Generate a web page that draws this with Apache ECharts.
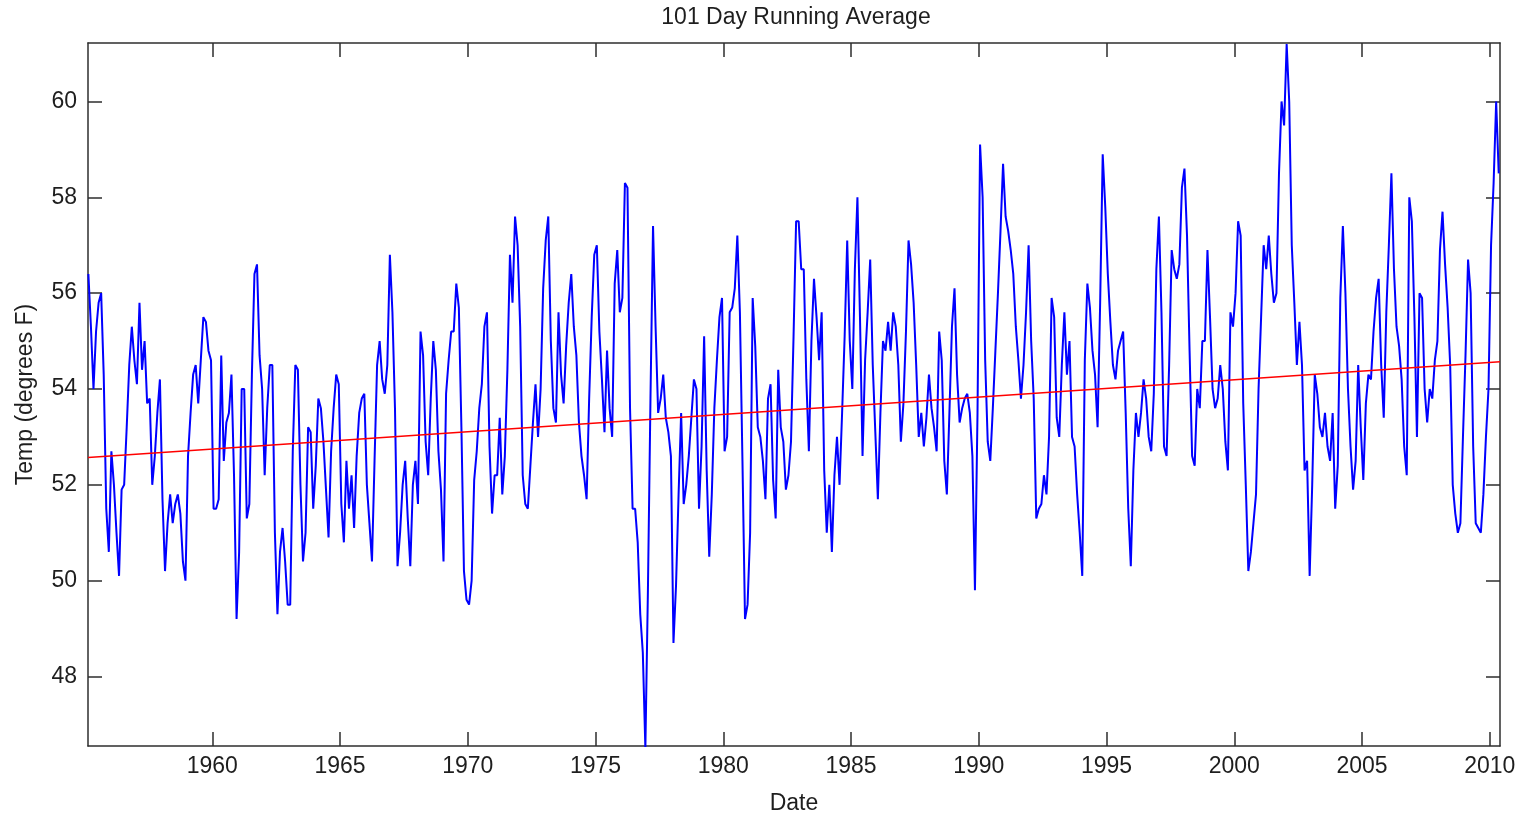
<!DOCTYPE html>
<html>
<head>
<meta charset="utf-8">
<title>101 Day Running Average</title>
<script src="https://cdn.jsdelivr.net/npm/echarts@6/dist/echarts.min.js"></script>
<style>
  html, body { margin: 0; padding: 0; background: #ffffff; overflow: hidden; }
  #chart { width: 1527px; height: 820px; }
</style>
</head>
<body>
<div id="chart"></div>
<script>
// 101-day running average of daily temperature (deg F).
// Samples are spaced 0.1 year apart, the first one at START_YEAR.
const START_YEAR = 1955.15;
const STEP = 0.1;

const seg1955 = [
  56.4, 55.3, 54.0, 55.2, 55.8, 56.0, 54.3, 51.5, 50.6, 52.7,
  52.0, 51.0, 50.1, 51.9, 52.0, 53.2, 54.5, 55.3, 54.6, 54.1,
  55.8, 54.4, 55.0, 53.7, 53.8, 52.0, 52.6, 53.5, 54.2, 51.7,
  50.2, 51.2, 51.8, 51.2, 51.6, 51.8, 51.4, 50.4, 50.0, 52.6,
  53.5, 54.3, 54.5, 53.7, 54.6, 55.5, 55.4, 54.8, 54.6, 51.5,
  51.5, 51.7, 54.7, 52.5, 53.3, 53.5, 54.3, 52.2
];
const seg1961 = [
  49.2, 50.6, 54.0, 54.0, 51.3, 51.6, 54.3, 56.4, 56.6, 54.7,
  54.0, 52.2, 53.6, 54.5, 54.5, 51.0, 49.3, 50.6, 51.1, 50.4,
  49.5, 49.5, 52.7, 54.5, 54.4, 52.0, 50.4, 51.0, 53.2, 53.1,
  51.5, 52.4, 53.8, 53.6, 52.9, 51.9, 50.9, 52.7, 53.6, 54.3,
  54.1, 51.6, 50.8, 52.5, 51.5, 52.2, 51.1, 52.6, 53.5, 53.8,
  53.9, 52.0, 51.2, 50.4, 52.5, 54.5, 55.0
];
const seg1966 = [
  54.2, 53.9, 54.5, 56.8, 55.6, 53.6, 50.3, 51.0, 52.0, 52.5,
  51.3, 50.3, 52.0, 52.5, 51.6, 55.2, 54.7, 52.9, 52.2, 53.8,
  55.0, 54.4, 52.7, 51.9, 50.4, 53.9, 54.6, 55.2, 55.2, 56.2,
  55.7, 53.2, 50.2, 49.6, 49.5, 50.0, 52.1, 52.7, 53.6, 54.1,
  55.3, 55.6, 52.8, 51.4, 52.2, 52.2, 53.4, 51.8, 52.6, 54.4,
  56.8, 55.8, 57.6, 57.0, 55.3, 52.2
];
const seg1972 = [
  51.6, 51.5, 52.4, 53.3, 54.1, 53.0, 54.0, 56.1, 57.1, 57.6,
  55.0, 53.6, 53.3, 55.6, 54.3, 53.7, 54.9, 55.8, 56.4, 55.3,
  54.7, 53.3, 52.6, 52.2, 51.7, 53.8, 55.5, 56.8, 57.0, 55.2,
  54.2, 53.1, 54.8, 53.6, 53.0, 56.2, 56.9, 55.6, 55.9, 58.3,
  58.2, 53.6, 51.5, 51.5, 50.8, 49.3, 48.5, 46.5, 49.8, 53.8,
  57.4, 55.3, 53.5, 53.8, 54.3, 53.4, 53.1
];
const seg1978 = [
  52.6, 48.7, 49.9, 51.8, 53.5, 51.6, 52.0, 52.6, 53.4, 54.2,
  54.0, 51.5, 52.8, 55.1, 52.3, 50.5, 51.8, 53.6, 54.6, 55.5,
  55.9, 52.7, 53.0, 55.6, 55.7, 56.1, 57.2, 55.6, 52.5, 49.2,
  49.5, 51.0, 55.9, 54.9, 53.2, 53.0, 52.5, 51.7, 53.8, 54.1,
  52.1, 51.3, 54.4, 53.2, 52.9, 51.9, 52.2, 52.9, 55.1, 57.5,
  57.5, 56.5, 56.5, 54.2, 52.7, 55.0, 56.3
];
const seg1983 = [
  55.5, 54.6, 55.6, 52.3, 51.0, 52.0, 50.6, 52.2, 53.0, 52.0,
  53.5, 55.1, 57.1, 55.0, 54.0, 56.5, 58.0, 55.5, 52.6, 54.6,
  55.6, 56.7, 54.5, 53.1, 51.7, 53.5, 55.0, 54.8, 55.4, 54.8,
  55.6, 55.3, 54.5, 52.9, 53.7, 55.2, 57.1, 56.6, 55.8, 54.5,
  53.0, 53.5, 52.8, 53.4, 54.3, 53.6, 53.2, 52.7, 55.2, 54.6,
  52.5, 51.8, 53.5, 55.3, 56.1, 54.3
];
const seg1989 = [
  53.3, 53.6, 53.8, 53.9, 53.5, 52.6, 49.8, 53.5, 59.1, 58.0,
  54.6, 52.9, 52.5, 53.6, 54.8, 56.0, 57.3, 58.7, 57.6, 57.3,
  56.9, 56.4, 55.3, 54.6, 53.8, 54.5, 55.6, 57.0, 55.0, 53.8,
  51.3, 51.5, 51.6, 52.2, 51.8, 53.0, 55.9, 55.5, 53.4, 53.0,
  54.5, 55.6, 54.3, 55.0, 53.0, 52.8, 51.8, 51.0, 50.1, 54.6,
  56.2, 55.7, 54.8, 54.3, 53.2, 55.8, 58.9
];
const seg1995 = [
  57.8, 56.4, 55.4, 54.5, 54.2, 54.8, 55.0, 55.2, 53.5, 51.5,
  50.3, 52.3, 53.5, 53.0, 53.5, 54.2, 53.8, 53.0, 52.7, 53.9,
  56.5, 57.6, 55.6, 52.8, 52.6, 54.5, 56.9, 56.5, 56.3, 56.6,
  58.2, 58.6, 57.2, 54.8, 52.6, 52.4, 54.0, 53.6, 55.0, 55.0,
  56.9, 55.5, 54.0, 53.6, 53.8, 54.5, 54.0, 52.9, 52.3, 55.6,
  55.3, 56.0, 57.5, 57.2, 53.7, 52.0, 50.2
];
const seg2000 = [
  50.6, 51.2, 51.8, 54.0, 55.5, 57.0, 56.5, 57.2, 56.4, 55.8,
  56.0, 58.5, 60.0, 59.5, 61.2, 60.0, 57.0, 55.8, 54.5, 55.4,
  54.5, 52.3, 52.5, 50.1, 52.0, 54.3, 53.9, 53.2, 53.0, 53.5,
  52.8, 52.5, 53.5, 51.5, 52.4, 55.9, 57.4, 56.0, 54.0, 52.8,
  51.9, 52.5, 54.5, 53.2, 52.1, 53.7, 54.3, 54.2, 55.2, 55.9,
  56.3, 54.5, 53.4, 55.6, 57.0, 58.5, 56.5
];
const seg2006 = [
  55.3, 54.9, 54.2, 52.8, 52.2, 58.0, 57.5, 55.5, 53.0, 56.0,
  55.9, 54.0, 53.3, 54.0, 53.8, 54.6, 55.0, 56.9, 57.7, 56.6,
  55.7, 54.5, 52.0, 51.4, 51.0, 51.2, 53.0, 54.7, 56.7, 56.0,
  52.8, 51.2, 51.1, 51.0, 51.8, 53.0, 54.0, 57.0, 58.3, 60.0,
  58.5
];

// Linear trend over the whole record
const trendYears = [1955.135, 2010.40];
const trendTemps = [52.57, 54.57];

// Axis ticks
const yearTicks = [1960, 1965, 1970, 1975, 1980, 1985, 1990, 1995, 2000, 2005, 2010];
const tempTicks = [48, 50, 52, 54, 56, 58, 60];

const temps = [].concat(seg1955, seg1961, seg1966, seg1972, seg1978,
                        seg1983, seg1989, seg1995, seg2000, seg2006);
const runningData = temps.map((t, i) => [+(START_YEAR + i * STEP).toFixed(2), t]);
const trendData = trendYears.map((y, i) => [y, trendTemps[i]]);

const FONT = '"Liberation Sans", Arial, Helvetica, sans-serif';
const TEXT = '#1e1e1e';
const AXIS = '#2e2e2e';

const X_MIN = 1955.135, X_MAX = 2010.40;
const Y_MIN = 46.55, Y_MAX = 61.22;

function frameX(position, showLabels) {
  return {
    type: 'value', position: position, min: X_MIN, max: X_MAX,
    axisLine: { show: true, onZero: false, lineStyle: { color: AXIS, width: 1.5 } },
    axisTick: { show: true, inside: true, length: 14, customValues: yearTicks,
                lineStyle: { color: AXIS, width: 1.5 } },
    axisLabel: { show: showLabels, customValues: yearTicks, margin: 9,
                 fontFamily: FONT, fontSize: 23, color: TEXT,
                 formatter: v => String(Math.round(v)) },
    splitLine: { show: false }
  };
}
function frameY(position, showLabels) {
  return {
    type: 'value', position: position, min: Y_MIN, max: Y_MAX,
    axisLine: { show: true, onZero: false, lineStyle: { color: AXIS, width: 1.5 } },
    axisTick: { show: true, inside: true, length: 14, customValues: tempTicks,
                lineStyle: { color: AXIS, width: 1.5 } },
    axisLabel: { show: showLabels, customValues: tempTicks, margin: 11,
                 fontFamily: FONT, fontSize: 23, color: TEXT,
                 formatter: v => String(Math.round(v)) },
    splitLine: { show: false }
  };
}

const xBottom = Object.assign(frameX('bottom', true), {
  name: 'Date', nameLocation: 'middle', nameGap: 46,
  nameTextStyle: { fontFamily: FONT, fontSize: 23, color: TEXT }
});
const yLeft = Object.assign(frameY('left', true), {
  name: 'Temp (degrees F)', nameLocation: 'middle', nameGap: 51, nameRotate: 90,
  nameTextStyle: { fontFamily: FONT, fontSize: 23, color: TEXT }
});

const chart = echarts.init(document.getElementById('chart'), null, { renderer: 'canvas' });
chart.setOption({
  animation: false,
  backgroundColor: '#ffffff',
  title: {
    text: '101 Day Running Average',
    left: 791, top: 1, textAlign: 'center',
    textStyle: { fontFamily: FONT, fontSize: 23, fontWeight: 'normal', color: TEXT }
  },
  // plot box fixed from the top so its height does not depend on the canvas height
  grid: { left: 88, top: 43, width: 1412, height: 708, containLabel: false },
  xAxis: [xBottom, frameX('top', false)],
  yAxis: [yLeft, frameY('right', false)],
  series: [
    {
      name: 'Running average', type: 'line', xAxisIndex: 0, yAxisIndex: 0,
      data: runningData, showSymbol: false, clip: true,
      lineStyle: { color: '#0000ff', width: 2 }
    },
    {
      name: 'Trend', type: 'line', xAxisIndex: 0, yAxisIndex: 0,
      data: trendData, showSymbol: false, clip: true,
      lineStyle: { color: '#ff0000', width: 1.5 }
    }
  ]
});
</script>
</body>
</html>
